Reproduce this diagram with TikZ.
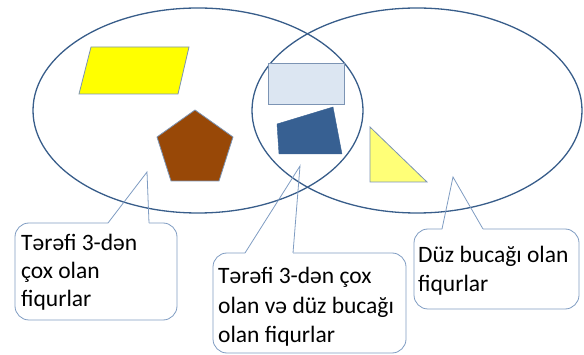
\documentclass[tikz,border=0pt]{standalone}
\usepackage{fontspec}
\setmainfont{Carlito}
\definecolor{ringblue}{HTML}{385D8A}
\definecolor{callblue}{HTML}{7F9CC2}
\definecolor{edgeblue}{HTML}{7C94B4}
\definecolor{paraYellow}{HTML}{FFFF00}
\definecolor{triYellow}{HTML}{FFFF77}
\definecolor{pentBrown}{HTML}{984807}
\definecolor{rectLight}{HTML}{DCE6F2}
\definecolor{quadBlue}{HTML}{376092}
\begin{document}
\begin{tikzpicture}[x=1pt,y=-1pt,
  setring/.style={draw=ringblue, line width=1.3pt},
  callbox/.style={draw=callblue, line width=0.8pt, rounded corners=14pt},
  callptr/.style={draw=callblue, line width=0.8pt, line join=miter},
  calltext/.style={anchor=base west, inner sep=0pt, align=left},
  shapeedge/.style={draw=edgeblue, line width=0.8pt, line join=miter}]
\useasboundingbox (0,0) rectangle (584,355);
% sets
\draw[setring] (198,110.5) ellipse [x radius=165, y radius=102.5];
\draw[setring] (417,110.5) ellipse [x radius=165, y radius=102.5];
% figures
\filldraw[shapeedge, fill=paraYellow] (91,47) -- (189,47) -- (178,94) -- (79,94) -- cycle;
\filldraw[shapeedge, fill=pentBrown] (195,110) -- (233,137) -- (219,181) -- (171,181) -- (157,137) -- cycle;
\filldraw[shapeedge, fill=rectLight] (268,63) rectangle (344,104);
\filldraw[draw=quadBlue, fill=quadBlue] (277,124) -- (333,107) -- (342,154) -- (279,154) -- cycle;
\filldraw[shapeedge, fill=triYellow] (370,127) -- (370,182) -- (427,182) -- cycle;
% callout 1
\coordinate (t1) at (147,172);
\draw[callbox] (108,223) -- (15,223) -- (15,320) -- (177,320) -- (177,223) -- (149,223);
\draw[callptr] (108,223) -- (t1) -- (149,223);
\node[calltext, font=\fontsize{23.5}{28}\selectfont] (c1) at (21,307) {Tərəfi 3-dən\\çox olan\\fiqurlar};
% callout 2
\coordinate (t2) at (300,166);
\draw[callbox] (245,253) -- (213,253) -- (213,353) -- (406,353) -- (406,253) -- (293,253);
\draw[callptr] (245,253) -- (t2) -- (293,253);
\node[calltext, font=\fontsize{23.5}{29.5}\selectfont] (c2) at (218,343) {Tərəfi 3-dən çox\\olan və düz bucağı\\olan fiqurlar};
% callout 3
\coordinate (t3) at (453,177);
\draw[callbox] (442,229) -- (414,229) -- (414,309) -- (579,309) -- (579,229) -- (483,229);
\draw[callptr] (442,229) -- (t3) -- (483,229);
\node[calltext, font=\fontsize{23.5}{29}\selectfont] (c3) at (418,292) {Düz bucağı olan\\fiqurlar};
\end{tikzpicture}
\end{document}
